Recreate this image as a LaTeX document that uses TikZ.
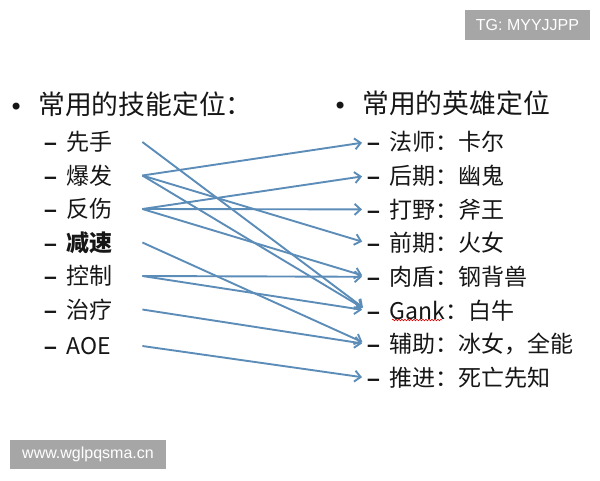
\documentclass[tikz,border=0pt]{standalone}
\usepackage{fontspec}
\setmainfont{Noto Sans CJK SC}
\newfontfamily\wmfont{Liberation Sans}
\newfontfamily\symfont{DejaVu Sans}
\newcommand{\dsh}{{\wmfont\bfseries –}\hspace{9.5pt}}
\usetikzlibrary{arrows.meta,decorations.pathmorphing}
\definecolor{lineblue}{RGB}{92,140,184}
\definecolor{ink}{RGB}{22,22,22}
\definecolor{wmgray}{RGB}{166,166,166}

\begin{document}
\begin{tikzpicture}
[x=1pt,y=-1pt
,hd/.style={anchor=west,inner sep=0pt,text=ink,font=\fontsize{26.8}{28}\selectfont}
,sk/.style={anchor=west,inner sep=0pt,text=ink,text width=98pt,font=\fontsize{23}{25}\selectfont}
,hr/.style={anchor=west,inner sep=0pt,text=ink,font=\fontsize{23}{25}\selectfont}
,be/.style={draw=lineblue,line width=1.9pt,arrows={-Straight Barb[length=6pt,width=11pt]},shorten >=5pt}
,wm/.style={fill=wmgray,text=white,inner sep=0pt,font=\wmfont\fontsize{16}{18}\selectfont}
]
\useasboundingbox (0,0) rectangle (600,480);
% headings
\node[hd] (hs) at (9,104) {\makebox[29pt][l]{\symfont\fontsize{24}{26}\selectfont\raisebox{-1.5pt}{•}}常用的技能定位：};
\node[hd] (hh) at (333,103) {\makebox[29pt][l]{\symfont\fontsize{24}{26}\selectfont\raisebox{-1.5pt}{•}}常用的英雄定位};
% skills
\node[sk] (s1) at (44,142) {\dsh 先手};
\node[sk] (s2) at (44,175.5) {\dsh 爆发};
\node[sk] (s3) at (44,209) {\dsh 反伤};
\node[sk] (s4) at (44,242.5) {\dsh {\bfseries 减速}};
\node[sk] (s5) at (44,276) {\dsh 控制};
\node[sk] (s6) at (44,309.5) {\dsh 治疗};
\node[sk] (s7) at (44,346) {\dsh AOE};
% heroes
\node[hr] (h1) at (367,142) {\dsh 法师：卡尔};
\node[hr] (h2) at (367,175.7) {\dsh 后期：幽鬼};
\node[hr] (h3) at (367,209.4) {\dsh 打野：斧王};
\node[hr] (h4) at (367,243.1) {\dsh 前期：火女};
\node[hr] (h5) at (367,276.8) {\dsh 肉盾：钢背兽};
\node[hr] (h6) at (367,310.5) {\dsh Gank：白牛};
\node[hr] (h7) at (367,344.2) {\dsh 辅助：冰女，全能};
\node[hr] (h8) at (367,377.9) {\dsh 推进：死亡先知};
\draw[red!85!black,line width=0.6pt,decorate,decoration={snake,amplitude=0.8pt,segment length=3pt}] (392,320) -- (442,320);
% links
\draw[be] (s1.east) -- (h6.west);
\draw[be] (s2.east) -- (h1.west);
\draw[be] (s2.east) -- (h4.west);
\draw[be] (s2.east) -- (h6.west);
\draw[be] (s3.east) -- (h2.west);
\draw[be] (s3.east) -- (h3.west);
\draw[be] (s3.east) -- (h5.west);
\draw[be] (s4.east) -- (h7.west);
\draw[be] (s5.east) -- (h5.west);
\draw[be] (s5.east) -- (h6.west);
\draw[be] (s6.east) -- (h7.west);
\draw[be] (s7.east) -- (h8.west);
% watermarks
\node[wm,minimum width=125pt,minimum height=30pt] (tg) at (527.5,25) {TG: MYYJJPP};
\node[wm,minimum width=156pt,minimum height=29pt] (www) at (88,454.5) {www.wglpqsma.cn};
\end{tikzpicture}
\end{document}
